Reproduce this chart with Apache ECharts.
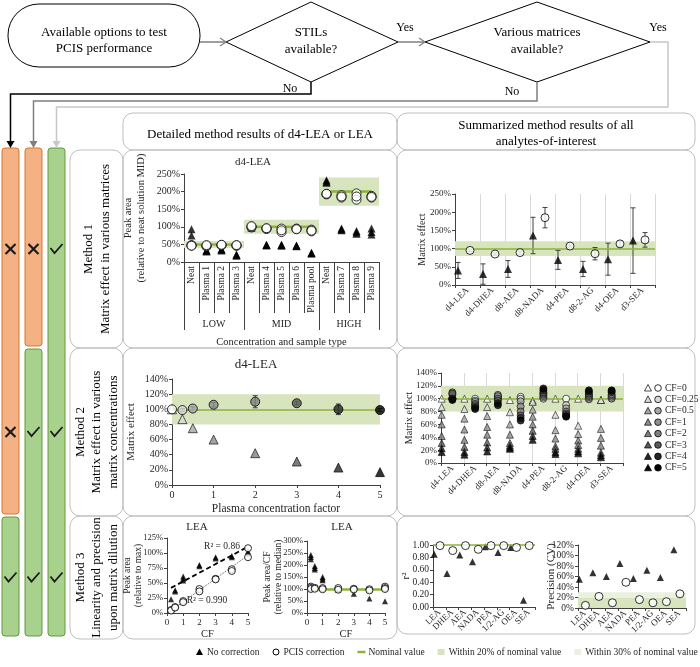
<!DOCTYPE html>
<html>
<head>
<meta charset="utf-8">
<title>PCIS performance</title>
<script src="https://cdn.jsdelivr.net/npm/echarts@6.0.0/dist/echarts.min.js"></script>
<style>
  html, body { margin: 0; padding: 0; background: #fff; }
  #chart { width: 700px; height: 667px; }
</style>
</head>
<body>
<div id="chart"></div>
<script>
// ---- values ----
// Method 1, detailed: d4-LEA peak area (% of neat solution MID), replicates per sample
const sampleTypes = ['Neat', 'Plasma 1', 'Plasma 2', 'Plasma 3', 'Neat', 'Plasma 4', 'Plasma 5', 'Plasma 6', 'Plasma pool', 'Neat', 'Plasma 7', 'Plasma 8', 'Plasma 9'];
const concGroups = ['LOW', 'MID', 'HIGH'];
const concGroupSize = [4, 5, 4];
const concNominal = [50, 100, 200];
const leaAreaNoCorr = [[93, 75, 50], [30, 32, 33], [33, 35, 36], [18, 20, 21], [104, 100, 97], [48, 47, 49], [48, 46, 49], [46, 45, 47], [25, 24, 26], [232, 225, 228], [95, 90, 92], [88, 80, 84], [95, 85, 78]];
const leaAreaPcis = [[47, 48, 46], [44, 46, 48], [47, 48, 49], [46, 47, 48], [98, 100, 102], [94, 95, 96], [95, 85, 90], [94, 95, 93], [92, 87, 89], [193, 192, 194], [190, 183, 186], [195, 177, 186], [188, 183, 185]];

// Method 1, summary: matrix effect (%) mean and error per analyte
const analytes = ['d4-LEA', 'd4-DHEA', 'd8-AEA', 'd8-NADA', 'd4-PEA', 'd8-2-AG', 'd4-OEA', 'd3-SEA'];
const meNoCorr = [40, 30, 44, 136, 69, 44, 71, 122];
const meNoCorrErr = [22, 28, 23, 50, 26, 21, 44, 90];
const mePcis = [95, 85, 89, 185, 107, 86, 113, 124];
const mePcisErr = [3, 3, 4, 28, 3, 17, 8, 20];

// Method 2: plasma concentration factors
const cfLevels = [0, 0.25, 0.5, 1, 2, 3, 4, 5];
const cfColors = ['#ffffff', '#d9d9d9', '#a6a6a6', '#8c8c8c', '#7f7f7f', '#595959', '#262626', '#000000'];
const leaMeNoCorr = [100, 87, 75, 60, 42, 31, 23, 17];
const leaMePcis = [100, 99, 101, 106, 110, 108, 100, 99];
const leaMePcisErr = [1, 2, 2, 3, 8, 2, 7, 2];
// rows: analytes, columns: CF levels
const cfMeNoCorr = [
  [100, 87, 75, 60, 42, 31, 23, 17],
  [100, 84, 69, 52, 36, 25, 17, 13],
  [100, 87, 73, 56, 44, 32, 24, 18],
  [98, 79, 60, 44, 31, 27, 24, 22],
  [97, 95, 83, 72, 60, 50, 42, 36],
  [100, 75, 51, 38, 26, 22, 17, 14],
  [100, 58, 45, 35, 28, 22, 18, 15],
  [98, 98, 53, 39, 27, 16, 12, 9]
];
const cfMePcis = [
  [100, 99, 101, 106, 110, 108, 100, 98],
  [100, 97, 95, 92, 90, 88, 86, 84],
  [100, 103, 106, 104, 100, 97, 93, 90],
  [103, 100, 96, 88, 80, 74, 70, 66],
  [100, 102, 104, 106, 108, 110, 113, 116],
  [100, 90, 85, 80, 77, 75, 73, 72],
  [99, 100, 102, 104, 106, 108, 111, 113],
  [100, 101, 103, 105, 107, 110, 112, 113]
];

// Method 3: LEA dilution series, [CF, value]
const linNoCorr = [[0.25, 23], [0.5, 38], [0.5, 36], [1, 61], [1, 57], [1, 54], [2, 80], [2, 78], [3, 93], [3, 91], [4, 95], [4, 93], [5, 103], [5, 99]];
const linPcis = [[0.25, 5], [0.25, 4], [0.5, 10], [0.5, 9], [1, 20], [1, 18], [2, 40], [2, 36], [3, 57], [3, 56], [4, 73], [4, 70], [5, 108], [5, 93]];
const linR2Labels = ['R² = 0.86', 'R² = 0.990'];
const perCfNoCorr = [[0.25, 242], [0.25, 233], [0.25, 224], [0.5, 196], [0.5, 188], [0.5, 181], [1, 150], [1, 143], [1, 136], [2, 100], [2, 96], [3, 80], [4, 60], [5, 49]];
const perCfPcis = [[0.25, 110], [0.25, 105], [0.25, 100], [0.5, 105], [0.5, 101], [1, 104], [1, 99], [2, 104], [2, 97], [3, 101], [3, 98], [4, 99], [4, 94], [5, 110], [5, 104], [5, 100]];
const analytesShort = ['LEA', 'DHEA', 'AEA', 'NADA', 'PEA', '1/2-AG', 'OEA', 'SEA'];
const r2NoCorr = [0.85, 0.54, 0.84, 0.73, 0.97, 0.88, 0.96, 0.11];
const r2Pcis = [0.99, 0.91, 0.99, 0.93, 0.99, 0.99, 0.96, 0.99];
const cvNoCorr = [55, 67, 60, 85, 56, 72, 58, 111];
const cvPcis = [5, 22, 10, 49, 16, 10, 12, 27];

// y-axis titles of the eight panels
const yTitles = [
  'Peak area\n(relative to neat solution MID)', 'Matrix effect', 'Matrix effect', 'Matrix effect',
  'Peak area\n(relative to max)', 'Peak area/CF\n(relative to median)', 'r²', 'Precision (CV)'
];

// ---- styling ----
const SERIF = 'Liberation Serif';
const GREEN = '#8db33a';
const BAND20 = '#d7e4bd';
const BAND30 = '#ebf1de';
const AXIS = '#404040';
const TXT = '#262626';
const ORANGE = '#f4b183', ORANGE_EDGE = '#d7772e';
const LGREEN = '#a9d18e', LGREEN_EDGE = '#5f9a3c';

const chart = echarts.init(document.getElementById('chart'));

const grids = [
  { left: 184, top: 174, width: 195, height: 88 },
  { left: 455, top: 194, width: 200, height: 91 },
  { left: 172, top: 379, width: 208, height: 106 },
  { left: 441, top: 373, width: 182, height: 90 },
  { left: 167, top: 538, width: 81, height: 75 },
  { left: 307, top: 541, width: 78, height: 72 },
  { left: 433, top: 545, width: 102, height: 62 },
  { left: 578, top: 545, width: 108, height: 63 }
];
// x centre of each y-axis title, its font size and line height
const yTitleX = [135, 422, 131, 409, 133, 273, 406, 551];
const yTitleSize = [10.5, 10, 11, 10, 9.5, 9.5, 11, 11];
const yTitleLine = [12.6, 12, 13, 12, 11, 11, 13, 13];

const font = (size) => ({ fontSize: size, color: TXT, fontFamily: SERIF });

function valueY(gridIndex, max, interval, size, extra) {
  return Object.assign({
    type: 'value', gridIndex, min: 0, max, interval,
    axisLine: { show: true, lineStyle: { color: AXIS } },
    axisTick: { show: true, length: 3, lineStyle: { color: AXIS } },
    splitLine: { show: false },
    axisLabel: Object.assign({ formatter: '{value}%', margin: 4 }, font(size))
  }, extra || {});
}

function valueX(gridIndex, max, size, name, gap) {
  return {
    type: 'value', gridIndex, min: 0, max, interval: 1,
    axisLine: { show: true, lineStyle: { color: AXIS } },
    axisTick: { show: true, length: 3, lineStyle: { color: AXIS } },
    splitLine: { show: false },
    axisLabel: Object.assign({ margin: 5 }, font(size)),
    name, nameLocation: 'middle', nameGap: gap, nameTextStyle: font(size + 1.5)
  };
}

function catX(gridIndex, data, grid) {
  return {
    type: 'category', gridIndex, data,
    axisLine: { show: true, lineStyle: { color: AXIS } },
    axisTick: { show: true, interval: 0, length: 3, lineStyle: { color: AXIS } },
    axisLabel: Object.assign({ interval: 0, rotate: 45, margin: 4 }, font(9)),
    splitLine: { show: grid, interval: 0, lineStyle: { color: '#d9d9d9' } }
  };
}

const hiddenX = (gridIndex, max) => ({ type: 'value', gridIndex, min: 0, max, show: false });

// group edges / centres for the two-level category axis
const groupEdges = [0];
concGroupSize.forEach((n, i) => groupEdges.push(groupEdges[i] + n));
const groupCenters = concGroupSize.map((n, i) => groupEdges[i] + n / 2);

function pts(name, xi, yi, data, kind, size, extra) {
  const tri = kind === 'tri';
  return Object.assign({
    name, type: 'scatter', xAxisIndex: xi, yAxisIndex: yi, data, silent: true,
    symbol: tri ? 'triangle' : 'circle', symbolSize: size,
    itemStyle: tri ? { color: '#000' } : { color: '#fff', borderColor: '#000', borderWidth: 1 },
    z: tri ? 4 : 5
  }, extra || {});
}

function bands(xi, yi, areas, color) {
  return {
    type: 'line', xAxisIndex: xi, yAxisIndex: yi, data: [], silent: true, z: 1,
    markArea: { silent: true, itemStyle: { color }, data: areas }
  };
}

function nominalLine(xi, yi, value, width) {
  return {
    type: 'line', xAxisIndex: xi, yAxisIndex: yi, data: [], silent: true, z: 2,
    markLine: { silent: true, symbol: 'none', label: { show: false },
      lineStyle: { color: GREEN, width, type: 'solid' }, data: [{ yAxis: value }] }
  };
}

function errorBars(xi, yi, rows) {
  return {
    type: 'custom', xAxisIndex: xi, yAxisIndex: yi, data: rows, silent: true, z: 3,
    encode: { x: 0, y: [1, 2] },
    renderItem: (params, api) => {
      const x = api.value(0);
      const top = api.coord([x, api.value(2)]);
      const bot = api.coord([x, api.value(1)]);
      const style = { stroke: '#404040', lineWidth: 1 };
      return { type: 'group', children: [
        { type: 'line', shape: { x1: top[0], y1: top[1], x2: bot[0], y2: bot[1] }, style },
        { type: 'line', shape: { x1: top[0] - 2.5, y1: top[1], x2: top[0] + 2.5, y2: top[1] }, style },
        { type: 'line', shape: { x1: bot[0] - 2.5, y1: bot[1], x2: bot[0] + 2.5, y2: bot[1] }, style }
      ] };
    }
  };
}

// least-squares trend line through the points, spanning their CF range
function trend(points) {
  const n = points.length;
  const mx = points.reduce((s, p) => s + p[0], 0) / n;
  const my = points.reduce((s, p) => s + p[1], 0) / n;
  let sxy = 0, sxx = 0;
  points.forEach(p => { sxy += (p[0] - mx) * (p[1] - my); sxx += (p[0] - mx) ** 2; });
  const b = sxy / sxx, a = my - b * mx;
  const xs = points.map(p => p[0]);
  const x0 = Math.min(...xs), x1 = Math.max(...xs);
  return [[x0, a + b * x0], [x1, a + b * x1]];
}

const flat = (rows) => rows.flatMap((vals, i) => vals.map(v => [i, v]));

// ---- series ----
const series = [];

// chart 1: bands + nominal lines on the group-level value axis
series.push(bands(1, 0, concNominal.map((v, i) => [
  { coord: [groupEdges[i], v * 0.8] }, { coord: [groupEdges[i + 1], v * 1.2] }
]), BAND20));
concNominal.forEach((v, i) => series.push({
  type: 'line', xAxisIndex: 1, yAxisIndex: 0, silent: true, z: 2, symbol: 'none',
  lineStyle: { color: GREEN, width: 2.5 },
  data: [[groupEdges[i] + 0.5, v], [groupEdges[i + 1] - 0.5, v]]
}));
series.push(pts('No correction', 0, 0, flat(leaAreaNoCorr), 'tri', 8));
series.push(pts('PCIS correction', 0, 0, flat(leaAreaPcis), 'circ', 9));

// chart 2: summary matrix effect
series.push(bands(3, 1, [[{ yAxis: 80 }, { yAxis: 120 }]], BAND20));
series.push(nominalLine(3, 1, 100, 1.5));
series.push(errorBars(3, 1, meNoCorr.map((v, i) => [i + 0.12, v - meNoCorrErr[i], v + meNoCorrErr[i]])));
series.push(errorBars(3, 1, mePcis.map((v, i) => [i + 0.6, v - mePcisErr[i], v + mePcisErr[i]])));
series.push(pts('No correction', 3, 1, meNoCorr.map((v, i) => [i + 0.12, v]), 'tri', 8));
series.push(pts('PCIS correction', 3, 1, mePcis.map((v, i) => [i + 0.6, v]), 'circ', 8));

// chart 3: d4-LEA across CF
series.push(bands(4, 2, [[{ yAxis: 80 }, { yAxis: 120 }]], BAND20));
series.push(nominalLine(4, 2, 100, 1.5));
series.push(errorBars(4, 2, leaMePcis.map((v, i) => [cfLevels[i], v - leaMePcisErr[i], v + leaMePcisErr[i]])));
series.push(pts('No correction', 4, 2, leaMeNoCorr.map((v, i) => ({
  value: [cfLevels[i], v], itemStyle: { color: cfColors[i], borderColor: '#000', borderWidth: 0.8 }
})), 'tri', 9));
series.push(pts('PCIS correction', 4, 2, leaMePcis.map((v, i) => ({
  value: [cfLevels[i], v], itemStyle: { color: cfColors[i], borderColor: '#000', borderWidth: 1 }
})), 'circ', 9));

// chart 4: all analytes across CF
series.push(bands(6, 3, [[{ yAxis: 80 }, { yAxis: 120 }]], BAND20));
series.push(nominalLine(6, 3, 100, 1.5));
cfLevels.forEach((cf, c) => {
  series.push(pts('tri CF=' + cf, 6, 3, cfMeNoCorr.map((row, k) => [k + 0.03, row[c]]), 'tri', 7,
    { itemStyle: { color: cfColors[c], borderColor: '#000', borderWidth: 0.7 }, z: 4 }));
});
cfLevels.forEach((cf, c) => {
  series.push(pts('CF=' + cf, 6, 3, cfMePcis.map((row, k) => [k + 0.5, row[c]]), 'circ', 7,
    { itemStyle: { color: cfColors[c], borderColor: '#000', borderWidth: 0.8 }, z: 5 }));
});

// chart 5: linearity
series.push({
  type: 'line', xAxisIndex: 7, yAxisIndex: 4, silent: true, z: 3, symbol: 'none',
  lineStyle: { color: '#000', width: 1.8, type: [5, 3] }, data: trend(linNoCorr)
});
series.push({
  type: 'line', xAxisIndex: 7, yAxisIndex: 4, silent: true, z: 3, symbol: 'none',
  lineStyle: { color: '#7f7f7f', width: 1, type: [2, 1] }, data: trend(linPcis)
});
series.push(pts('No correction', 7, 4, linNoCorr, 'tri', 6));
series.push(pts('PCIS correction', 7, 4, linPcis, 'circ', 7));

// chart 6: peak area / CF
series.push(nominalLine(8, 5, 100, 2.5));
series.push(pts('No correction', 8, 5, perCfNoCorr, 'tri', 6));
series.push(pts('PCIS correction', 8, 5, perCfPcis, 'circ', 7));

// chart 7: r2
series.push(nominalLine(10, 6, 1, 1.5));
series.push(pts('No correction', 10, 6, r2NoCorr.map((v, i) => [i + 0.1, v]), 'tri', 7));
series.push(pts('PCIS correction', 10, 6, r2Pcis.map((v, i) => [i + 0.55, v]), 'circ', 8));

// chart 8: precision
series.push(bands(12, 7, [[{ yAxis: 0 }, { yAxis: 20 }]], BAND20));
series.push(bands(12, 7, [[{ yAxis: 20 }, { yAxis: 30 }]], BAND30));
series.push(pts('No correction', 12, 7, cvNoCorr.map((v, i) => [i + 0.1, v]), 'tri', 7));
series.push(pts('PCIS correction', 12, 7, cvPcis.map((v, i) => [i + 0.55, v]), 'circ', 8));

// ---- flowchart, panels, bars, labels (graphic) ----
const G = [];
function txt(x, y, s, size, opt) {
  opt = opt || {};
  G.push({ type: 'text', x, y, rotation: opt.rotation || 0, z: 20, silent: true,
    style: { text: s, fontFamily: SERIF, fontSize: size, fill: opt.color || '#000',
      align: opt.align || 'center', verticalAlign: 'middle', lineHeight: opt.lh || size * 1.2 } });
}
function poly(points, stroke, width, z) {
  G.push({ type: 'polyline', z: z || 10, silent: true, shape: { points },
    style: { stroke, lineWidth: width, fill: null } });
}
function gon(points, fill, stroke, z) {
  G.push({ type: 'polygon', z: z || 10, silent: true, shape: { points },
    style: { fill, stroke: stroke || null, lineWidth: 1 } });
}
function box(x, y, w, h, r, fill, stroke, z) {
  G.push({ type: 'rect', z: z || 0, silent: true, shape: { x, y, width: w, height: h, r },
    style: { fill, stroke, lineWidth: 1 } });
}
const measureCtx = document.createElement('canvas').getContext('2d');
function textWidth(s, size) {
  measureCtx.font = size + 'px "' + SERIF + '"';
  return measureCtx.measureText(s).width;
}

// start box and decisions
box(8, 4, 192, 63, 31, '#fff', '#000', 10);
txt(104, 33, 'Available options to test', 13);
txt(104, 49, 'PCIS performance', 13);
gon([[226, 42], [311, 2], [398, 42], [311, 82]], '#fff', '#000');
txt(311, 33, 'STILs', 13);
txt(311, 50, 'available?', 13);
gon([[425, 42], [537, 2], [650, 42], [537, 82]], '#fff', '#000');
txt(537, 33, 'Various matrices', 13);
txt(537, 50, 'available?', 13);
poly([[200, 42], [226, 42]], '#7f7f7f', 1.5);
poly([[220, 38], [226, 42], [220, 46]], '#7f7f7f', 1.2);
poly([[398, 42], [425, 42]], '#7f7f7f', 1.5);
poly([[419, 38], [425, 42], [419, 46]], '#7f7f7f', 1.2);
txt(405, 28, 'Yes', 12);
txt(658, 28, 'Yes', 12);
txt(290, 89, 'No', 12);
txt(512, 92, 'No', 12);

// routes to the three option columns
const barX = [2, 25, 48];
const barW = 17;
const routes = [
  { color: '#000', pts: [[311, 82], [311, 94], [10.5, 94], [10.5, 142]] },
  { color: '#7f7f7f', pts: [[537, 82], [537, 101], [33.5, 101], [33.5, 142]] },
  { color: '#c8c8c8', pts: [[650, 42], [668, 42], [668, 107], [56.5, 107], [56.5, 142]] }
];
routes.forEach(r => {
  poly(r.pts, r.color, 1.5);
  const x = r.pts[r.pts.length - 1][0];
  gon([[x - 4, 141], [x + 4, 141], [x, 148]], r.color);
});

// rows of the panel
const rows = [
  { top: 150, bottom: 348, title: 'Method 1\nMatrix effect in various matrices' },
  { top: 348, bottom: 516, title: 'Method 2\nMatrix effect in various\nmatrix concentrations' },
  { top: 516, bottom: 639, title: 'Method 3\nLinearity and precision\nupon matrix dilution' }
];
const outcome = [['x', 'x', 'v'], ['x', 'v', 'v'], ['v', 'v', 'v']];

box(123, 113, 274, 37, 10, null, '#bfbfbf');
box(397, 113, 298, 37, 10, null, '#bfbfbf');
txt(260, 135, 'Detailed method results of d4-LEA or LEA', 13);
txt(546, 126, 'Summarized method results of all', 13);
txt(546, 142, 'analytes-of-interest', 13);

rows.forEach((r, i) => {
  const h = r.bottom - r.top;
  box(70, r.top, 53, h, 10, null, '#bfbfbf');
  box(123, r.top, 274, h, 10, null, '#bfbfbf');
  box(397, r.top, 298, i === 2 ? h - 5 : h, 10, null, '#bfbfbf');
  txt(97, (r.top + r.bottom) / 2, r.title, 13, { rotation: Math.PI / 2, lh: 16.5 });
});

// option bars: orange until the first passing method, green after
outcome[0].forEach((_, col) => {
  let start = 148;
  let cur = outcome[0][col];
  const segs = [];
  rows.forEach((r, i) => {
    if (outcome[i][col] !== cur) {
      segs.push({ kind: cur, y0: start, y1: rows[i - 1].bottom - 2 });
      start = r.top + 1;
      cur = outcome[i][col];
    }
  });
  segs.push({ kind: cur, y0: start, y1: rows[rows.length - 1].bottom - 3 });
  segs.forEach(s => box(barX[col], s.y0, barW, s.y1 - s.y0, 3,
    s.kind === 'x' ? ORANGE : LGREEN, s.kind === 'x' ? ORANGE_EDGE : LGREEN_EDGE, 5));
  rows.forEach((r, i) => {
    const cx = barX[col] + barW / 2, cy = (r.top + r.bottom) / 2;
    if (outcome[i][col] === 'x') {
      poly([[cx - 5, cy - 5], [cx + 5, cy + 5]], '#1a1a1a', 2.2, 12);
      poly([[cx + 5, cy - 5], [cx - 5, cy + 5]], '#1a1a1a', 2.2, 12);
    } else {
      poly([[cx - 6, cy - 1], [cx - 2, cy + 4], [cx + 6, cy - 5]], '#1a1a1a', 1.8, 12);
    }
  });
});

// y-axis titles, rotated, centred on each plot's height
grids.forEach((g, i) => {
  txt(yTitleX[i], g.top + g.height / 2, yTitles[i], yTitleSize[i],
    { rotation: Math.PI / 2, color: TXT, lh: yTitleLine[i] });
});

// chart titles and annotations
txt(253, 162, 'd4-LEA', 11, { color: TXT });
txt(256, 365, 'd4-LEA', 13, { color: TXT });
txt(197, 527, 'LEA', 11, { color: TXT });
txt(342, 527, 'LEA', 11, { color: TXT });
txt(222, 546, linR2Labels[0], 9.5, { color: TXT });
txt(207, 600, linR2Labels[1], 9.5, { color: TXT });

// CF legend of the summary chart
cfLevels.forEach((cf, i) => {
  const y = 388 + i * 11.4;
  G.push({ type: 'polygon', z: 20, silent: true, shape: { points: [[644.5, y + 3], [651.5, y + 3], [648, y - 3.5]] },
    style: { fill: cfColors[i], stroke: '#000', lineWidth: 0.7 } });
  G.push({ type: 'circle', z: 20, silent: true, shape: { cx: 658, cy: y, r: 3.3 },
    style: { fill: cfColors[i], stroke: '#000', lineWidth: 0.8 } });
  txt(665, y, 'CF=' + cf, 9.5, { align: 'left', color: TXT });
});

// bottom legend, laid out from measured text widths
const legendItems = [
  { kind: 'tri', text: 'No correction' },
  { kind: 'circ', text: 'PCIS correction' },
  { kind: 'line', text: 'Nominal value' },
  { kind: 'band20', text: 'Within 20% of nominal value' },
  { kind: 'band30', text: 'Within 30% of nominal value' }
];
const ly = 652, lsize = 9.5;
let lx = 196;
legendItems.forEach(it => {
  if (it.kind === 'tri') gon([[lx, ly + 3], [lx + 7, ly + 3], [lx + 3.5, ly - 3.5]], '#000', null, 20);
  if (it.kind === 'circ') G.push({ type: 'circle', z: 20, silent: true, shape: { cx: lx + 3.5, cy: ly, r: 3 },
    style: { fill: '#fff', stroke: '#000', lineWidth: 1 } });
  if (it.kind === 'line') poly([[lx, ly], [lx + 8, ly]], GREEN, 2.5, 20);
  if (it.kind === 'band20') box(lx, ly - 3, 7, 6, 0, BAND20, null, 20);
  if (it.kind === 'band30') box(lx, ly - 3, 7, 6, 0, BAND30, null, 20);
  txt(lx + 11, ly, it.text, lsize, { align: 'left', color: TXT });
  lx += 11 + textWidth(it.text, lsize) + 13;
});

const option = {
  animation: false,
  backgroundColor: '#fff',
  textStyle: { fontFamily: SERIF },
  grid: grids,
  xAxis: [
    {
      type: 'category', gridIndex: 0, data: sampleTypes,
      axisLine: { show: true, lineStyle: { color: AXIS } },
      axisTick: { show: true, interval: 0, length: 51, lineStyle: { color: AXIS } },
      axisLabel: Object.assign({ interval: 0, rotate: 90, margin: 4 }, font(9.5)),
      splitLine: { show: false }
    },
    {
      type: 'value', gridIndex: 0, position: 'bottom', offset: 51, min: 0, max: groupEdges[groupEdges.length - 1],
      axisLine: { show: false },
      axisTick: { show: true, customValues: groupEdges, length: 17, lineStyle: { color: AXIS } },
      axisLabel: Object.assign({ customValues: groupCenters, margin: 6,
        formatter: v => concGroups[groupCenters.indexOf(v)] }, font(10)),
      splitLine: { show: false },
      name: 'Concentration and sample type', nameLocation: 'middle', nameGap: 24, nameTextStyle: font(10.5)
    },
    catX(1, analytes, true),
    hiddenX(1, analytes.length),
    valueX(2, 5, 10, 'Plasma concentration factor', 18),
    catX(3, analytes, true),
    hiddenX(3, analytes.length),
    valueX(4, 5, 9, 'CF', 16),
    valueX(5, 5, 9, 'CF', 16),
    catX(6, analytesShort, false),
    hiddenX(6, analytesShort.length),
    catX(7, analytesShort, false),
    hiddenX(7, analytesShort.length)
  ],
  yAxis: [
    valueY(0, 250, 50, 10),
    valueY(1, 250, 50, 9),
    valueY(2, 140, 20, 10),
    valueY(3, 140, 20, 9),
    valueY(4, 125, 25, 8.5),
    valueY(5, 300, 50, 8.5),
    valueY(6, 1, 0.2, 9.5, { axisLabel: Object.assign({ margin: 4, formatter: v => v.toFixed(2) }, font(9.5)) }),
    valueY(7, 120, 20, 9.5)
  ],
  series,
  graphic: { elements: G }
};

chart.setOption(option);
</script>
</body>
</html>
